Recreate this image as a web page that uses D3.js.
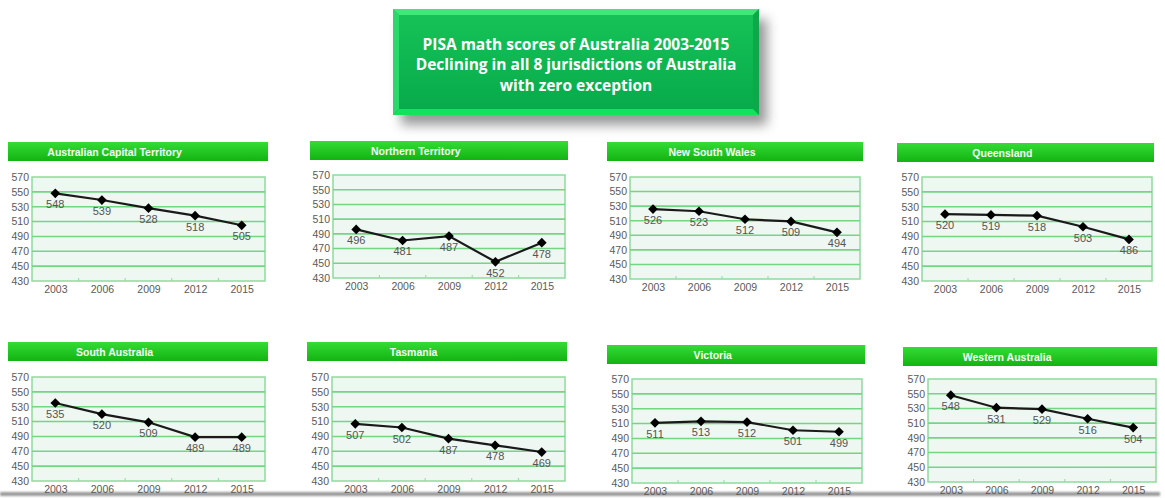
<!DOCTYPE html>
<html>
<head>
<meta charset="utf-8">
<script src="https://cdn.jsdelivr.net/npm/d3@7/dist/d3.min.js"></script>
<style>
  body { margin: 0; background: #fff; }
  svg { display: block; }
  .tick-label { font-family: "Liberation Sans", Arial, sans-serif; font-size: 10.5px; fill: #5a5a5a; }
  .val-label { font-family: "Liberation Sans", Arial, sans-serif; font-size: 11px; fill: #555; }
  .hdr { font-family: "Liberation Sans", Arial, sans-serif; font-size: 10.5px; font-weight: bold; fill: #f4fff4; }
  .title { font-family: "Open Sans", "Liberation Sans", sans-serif; font-size: 15.5px; font-weight: bold; fill: #fff; }
</style>
</head>
<body>
<svg id="chart" width="1165" height="498"></svg>
<script>
// ---- data ----
const titleLines = [
  'PISA math scores of Australia 2003-2015',
  'Declining in all 8 jurisdictions  of Australia',
  'with zero exception'
];
const years = ['2003', '2006', '2009', '2012', '2015'];
const yTicks = [430, 450, 470, 490, 510, 530, 550, 570];
const regions = [
  'Australian Capital Territory', 'Northern Territory', 'New South Wales', 'Queensland',
  'South Australia', 'Tasmania', 'Victoria', 'Western Australia'
];
const actScores = [548, 539, 528, 518, 505];
const ntScores = [496, 481, 487, 452, 478];
const nswScores = [526, 523, 512, 509, 494];
const qldScores = [520, 519, 518, 503, 486];
const saScores = [535, 520, 509, 489, 489];
const tasScores = [507, 502, 487, 478, 469];
const vicScores = [511, 513, 512, 501, 499];
const waScores = [548, 531, 529, 516, 504];
const allScores = [actScores, ntScores, nswScores, qldScores, saScores, tasScores, vicScores, waScores];

// ---- layout (header bar + plot frame for each panel) ----
const panels = [
  { hx: 8,   hy: 142, hw: 260, px: 32,  py: 177, pw: 233, ph: 104 },
  { hx: 310, hy: 141, hw: 258, px: 333, py: 175, pw: 232, ph: 103 },
  { hx: 607, hy: 142, hw: 256, px: 630, py: 177, pw: 230, ph: 102 },
  { hx: 897, hy: 143, hw: 257, px: 922, py: 177, pw: 230, ph: 104 },
  { hx: 8,   hy: 342, hw: 260, px: 32,  py: 377, pw: 233, ph: 104 },
  { hx: 307, hy: 342, hw: 260, px: 332, py: 377, pw: 233, ph: 104 },
  { hx: 607, hy: 345, hw: 258, px: 632, py: 379, pw: 230, ph: 104 },
  { hx: 903, hy: 347, hw: 254, px: 928, py: 379, pw: 228, ph: 103 }
];

const svg = d3.select('#chart');
const defs = svg.append('defs');

const hdrGrad = defs.append('linearGradient').attr('id', 'hdrGrad').attr('x1', 0).attr('y1', 0).attr('x2', 0).attr('y2', 1);
hdrGrad.append('stop').attr('offset', '0%').attr('stop-color', '#35dc35');
hdrGrad.append('stop').attr('offset', '100%').attr('stop-color', '#12b312');

const boxGrad = defs.append('linearGradient').attr('id', 'boxGrad').attr('x1', 0).attr('y1', 0).attr('x2', 0).attr('y2', 1);
boxGrad.append('stop').attr('offset', '0%').attr('stop-color', '#17c458');
boxGrad.append('stop').attr('offset', '100%').attr('stop-color', '#06a94a');

const shadow = defs.append('filter').attr('id', 'shadow').attr('x', '-20%').attr('y', '-20%').attr('width', '140%').attr('height', '150%');
shadow.append('feGaussianBlur').attr('stdDeviation', 6);

const lineBlur = defs.append('filter').attr('id', 'lineBlur').attr('x', '-5%').attr('y', '-200%').attr('width', '110%').attr('height', '500%');
lineBlur.append('feGaussianBlur').attr('stdDeviation', 1.2);

// bottom grey rule
svg.append('rect')
  .attr('x', 0).attr('y', 492).attr('width', 1160).attr('height', 4)
  .attr('fill', '#9a9a9a').attr('filter', 'url(#lineBlur)');

// ---- title box ----
const tb = { x: 393, y: 9, w: 366, h: 106, b: 6 };
svg.append('rect')
  .attr('x', tb.x + 8).attr('y', tb.y + 10).attr('width', tb.w).attr('height', tb.h)
  .attr('fill', '#555').attr('opacity', 0.6).attr('filter', 'url(#shadow)');
svg.append('rect')
  .attr('x', tb.x).attr('y', tb.y).attr('width', tb.w).attr('height', tb.h)
  .attr('fill', 'url(#boxGrad)');
// bevel edges
const bevel = [
  { pts: [[0, 0], [tb.w, 0], [tb.w - tb.b, tb.b], [tb.b, tb.b]], c: '#3ee87a' },
  { pts: [[0, 0], [tb.b, tb.b], [tb.b, tb.h - tb.b], [0, tb.h]], c: '#2cd86a' },
  { pts: [[tb.w, 0], [tb.w, tb.h], [tb.w - tb.b, tb.h - tb.b], [tb.w - tb.b, tb.b]], c: '#0ca84a' },
  { pts: [[0, tb.h], [tb.b, tb.h - tb.b], [tb.w - tb.b, tb.h - tb.b], [tb.w, tb.h]], c: '#15e060' }
];
svg.selectAll('polygon.bevel').data(bevel).join('polygon')
  .attr('class', 'bevel')
  .attr('points', d => d.pts.map(p => [tb.x + p[0], tb.y + p[1]].join(',')).join(' '))
  .attr('fill', d => d.c);
svg.selectAll('text.title').data(titleLines).join('text')
  .attr('class', 'title')
  .attr('x', tb.x + tb.w / 2)
  .attr('y', (d, i) => 49.5 + i * 20.5)
  .attr('text-anchor', 'middle')
  .text(d => d);

// ---- panels ----
regions.forEach((name, i) => {
  const p = panels[i];
  const scores = allScores[i];
  const g = svg.append('g');

  // header bar
  g.append('rect')
    .attr('x', p.hx).attr('y', p.hy).attr('width', p.hw).attr('height', 19)
    .attr('fill', 'url(#hdrGrad)');
  g.append('text')
    .attr('class', 'hdr')
    .attr('x', p.hx + p.hw * 0.41).attr('y', p.hy + 13.5)
    .attr('text-anchor', 'middle')
    .text(name);

  const x = d3.scalePoint().domain(years).range([p.px, p.px + p.pw]).padding(0.5);
  const y = d3.scaleLinear().domain([430, 570]).range([p.py + p.ph, p.py]);

  // plot background
  g.append('rect')
    .attr('x', p.px).attr('y', p.py).attr('width', p.pw).attr('height', p.ph)
    .attr('fill', '#eef7f1').attr('stroke', '#8fdc9c').attr('stroke-width', 1.5);

  // horizontal grid
  g.selectAll('line.grid').data(yTicks.slice(1, -1)).join('line')
    .attr('x1', p.px).attr('x2', p.px + p.pw)
    .attr('y1', d => y(d)).attr('y2', d => y(d))
    .attr('stroke', '#74d683').attr('stroke-width', 1.6);

  // y axis
  const yAxis = d3.axisLeft(y).tickValues(yTicks).tickSize(0).tickPadding(3);
  const ya = g.append('g').attr('transform', `translate(${p.px},0)`).call(yAxis);
  ya.select('.domain').remove();
  ya.selectAll('text').attr('class', 'tick-label').attr('fill', null).attr('font-size', null).attr('font-family', null);

  // x axis
  const xAxis = d3.axisBottom(x).tickSize(0).tickPadding(5);
  const xa = g.append('g').attr('transform', `translate(0,${p.py + p.ph})`).call(xAxis);
  xa.select('.domain').remove();
  xa.selectAll('text').attr('class', 'tick-label').attr('fill', null).attr('font-size', null).attr('font-family', null);

  // small tick marks between categories
  const step = x.step();
  g.selectAll('line.minor').data(years.slice(1)).join('line')
    .attr('x1', d => x(d) - step / 2).attr('x2', d => x(d) - step / 2)
    .attr('y1', p.py + p.ph - 3).attr('y2', p.py + p.ph)
    .attr('stroke', '#8fdc9c').attr('stroke-width', 1);

  // line
  const line = d3.line().x((d, j) => x(years[j])).y(d => y(d));
  g.append('path')
    .datum(scores)
    .attr('d', line)
    .attr('fill', 'none')
    .attr('stroke', '#1a1a1a')
    .attr('stroke-width', 2.2);

  // diamond markers
  const diamond = d3.symbol().type(d3.symbolDiamond2).size(60);
  g.selectAll('path.mk').data(scores).join('path')
    .attr('d', diamond)
    .attr('transform', (d, j) => `translate(${x(years[j])},${y(d)})`)
    .attr('fill', '#000');

  // value labels
  g.selectAll('text.val').data(scores).join('text')
    .attr('class', 'val-label')
    .attr('x', (d, j) => x(years[j]))
    .attr('y', d => y(d) + 15)
    .attr('text-anchor', 'middle')
    .text(d => d);
});
</script>
</body>
</html>
